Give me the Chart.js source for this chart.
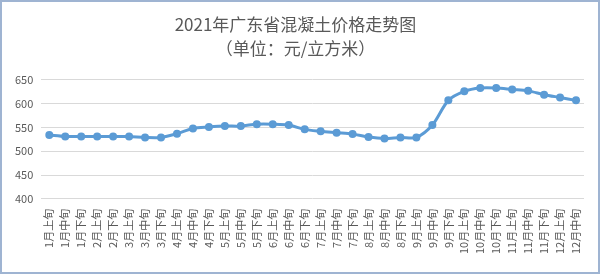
<!DOCTYPE html>
<html>
<head>
<meta charset="utf-8">
<script src="https://cdn.jsdelivr.net/npm/chart.js@4"></script>
<style>
    html, body { margin: 0; padding: 0; background: #fff; }
    #wrap { width: 600px; height: 274px; position: relative; }
</style>
</head>
<body>
<div id="wrap"><canvas id="priceChart"></canvas></div>
<script>
const periods = [
    '1月上旬', '1月中旬', '1月下旬', '2月上旬', '2月下旬',
    '3月上旬', '3月中旬', '3月下旬', '4月上旬', '4月中旬', '4月下旬',
    '5月上旬', '5月中旬', '5月下旬', '6月上旬', '6月中旬', '6月下旬',
    '7月上旬', '7月中旬', '7月下旬', '8月上旬', '8月中旬', '8月下旬',
    '9月上旬', '9月中旬', '9月下旬', '10月上旬', '10月中旬', '10月下旬',
    '11月上旬', '11月中旬', '11月下旬', '12月上旬', '12月中旬'
];
const prices = [
    534, 531, 531, 531, 531,
    531, 529, 529, 537, 548, 551,
    553, 553, 557, 557, 555, 546,
    542, 539, 536, 530, 527, 529,
    529, 555, 607, 626, 633, 633,
    630, 627, 619, 613, 607
];
const titleLines = ['2021年广东省混凝土价格走势图', '（单位：元/立方米）'];
const yMin = 400;
const yMax = 650;

const fontFamily = "'Noto Sans CJK SC', 'Liberation Sans', sans-serif";

// thin frame round the whole picture
const framePlugin = {
    id: 'frame',
    afterDraw(chart) {
        const c = chart.ctx;
        c.save();
        c.strokeStyle = '#9fb4d2';
        c.lineWidth = 2;
        c.strokeRect(1, 1, chart.width - 2, chart.height - 2);
        c.restore();
    }
};

const ctx = document.getElementById('priceChart').getContext('2d');
const priceChart = new Chart(ctx, {
    type: 'line',
    data: {
        labels: periods,
        datasets: [{
            data: prices,
            borderColor: '#5b9bd5',
            backgroundColor: '#5b9bd5',
            borderWidth: 3,
            pointRadius: 4,
            pointBorderWidth: 0,
            tension: 0.3,
            fill: false
        }]
    },
    options: {
        responsive: true,
        maintainAspectRatio: false,
        animation: false,
        layout: {
            padding: { left: 7, right: 16, top: 0, bottom: 18 }
        },
        plugins: {
            legend: { display: false },
            tooltip: { enabled: false },
            title: {
                display: true,
                text: titleLines,
                color: '#595959',
                font: { family: fontFamily, size: 17, weight: 'normal', lineHeight: 1.38 },
                padding: { top: 13, bottom: 20 }
            }
        },
        scales: {
            x: {
                offset: true,
                grid: { display: false },
                border: { display: false },
                ticks: {
                    color: '#595959',
                    font: { family: fontFamily, size: 11 },
                    minRotation: 90,
                    maxRotation: 90,
                    autoSkip: false,
                    padding: 2
                }
            },
            y: {
                min: yMin,
                max: yMax,
                grid: { color: '#d9d9d9', drawTicks: false },
                border: { display: false },
                ticks: {
                    stepSize: 50,
                    color: '#595959',
                    font: { family: fontFamily, size: 11 },
                    padding: 8
                }
            }
        }
    },
    plugins: [framePlugin]
});
</script>
</body>
</html>
